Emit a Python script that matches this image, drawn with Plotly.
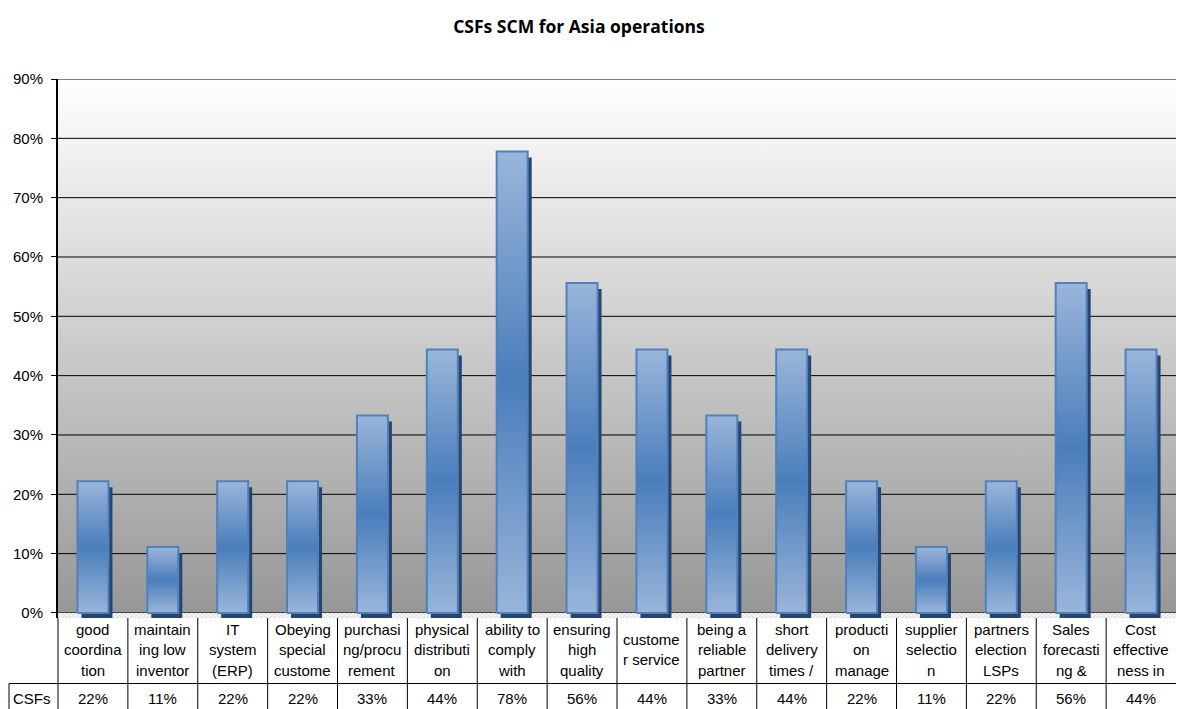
import plotly.graph_objects as go

# Critical success factors for supply chain management, Asia operations
label_lines = [
    ["good", "coordina", "tion"],
    ["maintain", "ing low", "inventor"],
    ["IT", "system", "(ERP)"],
    ["Obeying", "special", "custome"],
    ["purchasi", "ng/procu", "rement"],
    ["physical", "distributi", "on"],
    ["ability to", "comply", "with"],
    ["ensuring", "high", "quality"],
    ["custome", "r service"],
    ["being a", "reliable", "partner"],
    ["short", "delivery", "times /"],
    ["producti", "on", "manage"],
    ["supplier", "selectio", "n"],
    ["partners", "election", "LSPs"],
    ["Sales", "forecasti", "ng &"],
    ["Cost", "effective", "ness in"],
]
csf_share = [0.222, 0.111, 0.222, 0.222, 0.333, 0.444, 0.778, 0.556,
             0.444, 0.333, 0.444, 0.222, 0.111, 0.222, 0.556, 0.444]
series_name = "CSFs"
y_ticks = [0.0, 0.1, 0.2, 0.3, 0.4, 0.5, 0.6, 0.7, 0.8, 0.9]
title_text = "CSFs SCM for Asia operations"

# page geometry (pixels)
W, H = 1177, 709
PLOT_L, PLOT_R = 58, 1176
PLOT_T, PLOT_B = 79, 618
Y_MAX = 0.9
Y_MIN = -0.0085          # thin strip under the zero line for the axis hatch
n = len(csf_share)
cat_px = (PLOT_R - PLOT_L) / n
unit_px = (613 - PLOT_T) / Y_MAX   # pixels per y unit


def py_to_paper(py):
    return (PLOT_B - py) / (PLOT_B - PLOT_T)


def px_to_paper(px):
    return (px - PLOT_L) / (PLOT_R - PLOT_L)


fig = go.Figure()

# plot-area background: white at the top fading to grey at the baseline
fig.add_trace(go.Scatter(
    x=[-0.5, n - 0.5, n - 0.5, -0.5, -0.5],
    y=[0, 0, Y_MAX, Y_MAX, 0],
    mode="none", fill="toself",
    fillgradient=dict(type="vertical",
                      colorscale=[[0, "#979797"], [1, "#ffffff"]]),
    hoverinfo="skip", showlegend=False,
))

# horizontal gridlines
for t in y_ticks:
    fig.add_trace(go.Scatter(
        x=[-0.5, n - 0.5], y=[t, t], mode="lines",
        line=dict(color="#000000", width=1),
        hoverinfo="skip", showlegend=False,
    ))

# hatched category-axis strip
fig.add_trace(go.Scatter(
    x=[-0.5, n - 0.5, n - 0.5, -0.5, -0.5],
    y=[Y_MIN, Y_MIN, 0, 0, Y_MIN],
    mode="none", fill="toself",
    fillpattern=dict(shape="x", size=3, solidity=0.4,
                     fgcolor="#8c8c8c", bgcolor="#ffffff"),
    hoverinfo="skip", showlegend=False,
))

half_w = 15.5 / cat_px
shadow_dx = 4 / cat_px
shadow_dy = 6 / unit_px

# drop shadows behind the columns
for i, v in enumerate(csf_share):
    x0, x1 = i - half_w + shadow_dx, i + half_w + shadow_dx
    fig.add_trace(go.Scatter(
        x=[x0, x1, x1, x0, x0],
        y=[Y_MIN, Y_MIN, v - shadow_dy, v - shadow_dy, Y_MIN],
        mode="none", fill="toself", fillcolor="#27456f",
        hoverinfo="skip", showlegend=False,
    ))

# the columns themselves
for i, v in enumerate(csf_share):
    x0, x1 = i - half_w, i + half_w
    fig.add_trace(go.Scatter(
        x=[x0, x1, x1, x0, x0],
        y=[0, 0, v, v, 0],
        mode="lines", fill="toself",
        line=dict(color="#4f81bd", width=2),
        fillgradient=dict(type="vertical",
                          colorscale=[[0, "#9ab5da"], [0.5, "#4a7ebb"],
                                      [1, "#9ab5da"]]),
        name=series_name,
        hovertemplate="%{y:.0%}<extra></extra>",
        showlegend=False,
    ))

shapes = []
line_style = dict(color="#000000", width=1)
# column separators of the data table
for k in range(n):
    xp = k / n
    shapes.append(dict(type="line", xref="paper", yref="paper",
                       x0=xp, x1=xp, y0=py_to_paper(PLOT_B),
                       y1=py_to_paper(H), line=line_style))
# row separator and the series-name cell edge
left_cell = px_to_paper(9)
shapes.append(dict(type="line", xref="paper", yref="paper",
                   x0=left_cell, x1=1, y0=py_to_paper(683.5),
                   y1=py_to_paper(683.5), line=line_style))
shapes.append(dict(type="line", xref="paper", yref="paper",
                   x0=left_cell, x1=left_cell, y0=py_to_paper(683.5),
                   y1=py_to_paper(H), line=line_style))

annotations = []
table_font = dict(family="Liberation Sans, Arial, sans-serif", size=15,
                  color="#000000")
for i, lines in enumerate(label_lines):
    m = len(lines)
    for j, txt in enumerate(lines):
        py = 649.5 + (j - (m - 1) / 2) * 20.5
        annotations.append(dict(
            text=txt, x=i, xref="x", y=py_to_paper(py), yref="paper",
            xanchor="center", yanchor="middle", showarrow=False,
            font=table_font,
        ))
for i, v in enumerate(csf_share):
    annotations.append(dict(
        text=f"{v:.0%}", x=i, xref="x", y=py_to_paper(698.5), yref="paper",
        xanchor="center", yanchor="middle", showarrow=False, font=table_font,
    ))
annotations.append(dict(
    text=series_name, x=px_to_paper(11), xref="paper",
    y=py_to_paper(698.5), yref="paper", xanchor="left", yanchor="middle",
    showarrow=False, font=table_font,
))

fig.update_layout(
    width=W, height=H,
    margin=dict(l=PLOT_L, r=W - PLOT_R, t=PLOT_T, b=H - PLOT_B, pad=0),
    paper_bgcolor="#ffffff", plot_bgcolor="#ffffff",
    title=dict(text=f"<b>{title_text}</b>", x=579 / W, xanchor="center",
               y=1 - 27 / H, yanchor="middle",
               font=dict(family="Open Sans, Lato, sans-serif", size=17.5,
                         color="#000000")),
    xaxis=dict(range=[-0.5, n - 0.5], visible=False, fixedrange=True),
    yaxis=dict(range=[Y_MIN, Y_MAX], tickvals=y_ticks, tickformat=".0%",
               showgrid=False, zeroline=False, showline=True,
               linecolor="#000000", linewidth=2, ticks="outside",
               ticklen=5, tickcolor="#000000", tickwidth=1,
               ticklabelstandoff=5,
               tickfont=dict(family="Liberation Sans, Arial, sans-serif",
                             size=15, color="#000000"),
               fixedrange=True),
    shapes=shapes,
    annotations=annotations,
    showlegend=False,
)

fig.write_html("out.html", config={"displayModeBar": False})
